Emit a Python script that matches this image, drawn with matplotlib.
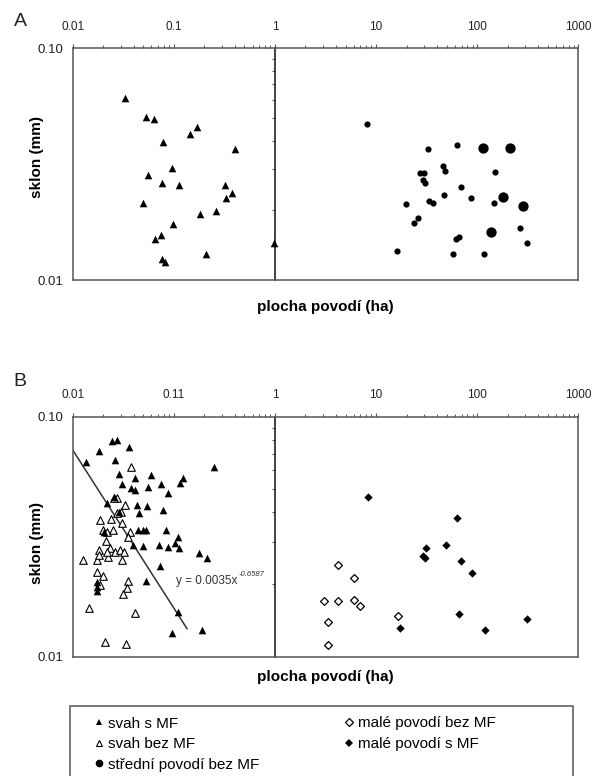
import numpy as np
import matplotlib
matplotlib.use('Agg')
import matplotlib.pyplot as plt
from matplotlib.lines import Line2D
from matplotlib.patches import Rectangle

plt.rcParams['font.family'] = ['Liberation Sans', 'DejaVu Sans']

# --- panel A: svahy s MF (trojúhelníky) a střední povodí (kolečka)
a_svah_x = [0.0328, 0.053, 0.0635, 0.170, 0.144, 0.0778, 0.406, 0.0963, 0.055, 0.0767,
            0.113, 0.321, 0.379, 0.331, 0.0498, 0.259, 0.182, 0.0985, 0.075, 0.0655,
            0.99, 0.207, 0.0767, 0.0826]
a_svah_y = [0.0612, 0.0507, 0.0494, 0.0459, 0.0427, 0.0393, 0.0366, 0.0303, 0.0284, 0.0263,
            0.0257, 0.0257, 0.0237, 0.0227, 0.0216, 0.0199, 0.0192, 0.0174, 0.0157, 0.0150,
            0.0144, 0.0130, 0.0123, 0.0120]

a_stredni_x = [8.07, 32.6, 63.6, 27.2, 30.0, 28.9, 30.2, 45.9, 48.0, 151, 68.6, 19.8, 33.1,
               36.8, 46.6, 87.5, 148, 25.8, 23.9, 265, 308, 61.2, 65.6, 16.2, 57.6, 118]
a_stredni_y = [0.0469, 0.0366, 0.0383, 0.0291, 0.0291, 0.0270, 0.0261, 0.0309, 0.0296, 0.0293,
               0.0253, 0.0212, 0.0219, 0.0214, 0.0232, 0.0227, 0.0214, 0.0185, 0.0176, 0.0167,
               0.0145, 0.0150, 0.0154, 0.0134, 0.0129, 0.0130]
# větší kolečka
a_stredni_velke_x = [115, 211, 181, 282, 136]
a_stredni_velke_y = [0.0370, 0.0370, 0.0229, 0.0209, 0.0161]

# --- panel B
b_svah_mf_x = [0.0135, 0.0182, 0.0243, 0.0272, 0.0362, 0.0262, 0.250, 0.0286, 0.0412, 0.0593,
               0.0309, 0.0415, 0.0376, 0.0557, 0.0739, 0.0867, 0.115, 0.122, 0.0256, 0.0220,
               0.0428, 0.0538, 0.0784, 0.0288, 0.0454, 0.0205, 0.0438, 0.0498, 0.0529, 0.0828,
               0.110, 0.0391, 0.0498, 0.0706, 0.0867, 0.102, 0.112, 0.177, 0.215, 0.0728,
               0.0529, 0.0173, 0.0175, 0.0174, 0.109, 0.0949, 0.188]
b_svah_mf_y = [0.0650, 0.0722, 0.0794, 0.0800, 0.0750, 0.0660, 0.0615, 0.0577, 0.0556, 0.0572,
               0.0525, 0.0496, 0.0505, 0.0508, 0.0525, 0.0482, 0.0531, 0.0553, 0.0464, 0.0435,
               0.0428, 0.0425, 0.0408, 0.0402, 0.0398, 0.0332, 0.0338, 0.0338, 0.0338, 0.0338,
               0.0316, 0.0292, 0.0289, 0.0292, 0.0287, 0.0297, 0.0283, 0.0270, 0.0257, 0.0239,
               0.0207, 0.0205, 0.0196, 0.0187, 0.0153, 0.0125, 0.0129]

b_svah_bez_x = [0.0374, 0.0276, 0.0254, 0.0328, 0.0298, 0.0276, 0.0186, 0.0239, 0.0305, 0.0198,
                0.0220, 0.0252, 0.0368, 0.0349, 0.0213, 0.0183, 0.0233, 0.0262, 0.0293, 0.0323,
                0.0225, 0.0305, 0.0175, 0.0126, 0.0181, 0.0218, 0.0173, 0.0200, 0.0349, 0.0341,
                0.0316, 0.0186, 0.0146, 0.0412, 0.0208, 0.0336]
b_svah_bez_y = [0.0619, 0.0457, 0.0457, 0.0428, 0.0402, 0.0398, 0.0371, 0.0374, 0.0362, 0.0338,
                0.0332, 0.0338, 0.0332, 0.0316, 0.0302, 0.0279, 0.0283, 0.0274, 0.0279, 0.0274,
                0.0261, 0.0253, 0.0253, 0.0253, 0.0266, 0.0274, 0.0226, 0.0217, 0.0207, 0.0193,
                0.0182, 0.0199, 0.0159, 0.0152, 0.01155, 0.0113]

b_male_bez_x = [4.20, 6.0, 3.08, 4.17, 6.0, 6.93, 3.35, 16.5, 3.35]
b_male_bez_y = [0.0241, 0.0212, 0.0171, 0.0171, 0.0173, 0.0163, 0.0140, 0.0148, 0.0112]

b_male_mf_x = [8.32, 63.6, 31.2, 49.5, 29.3, 30.3, 69.7, 89.5, 65.6, 17.1, 120, 311]
b_male_mf_y = [0.0461, 0.0377, 0.0285, 0.0292, 0.0264, 0.0259, 0.0251, 0.0224, 0.0150, 0.0132,
               0.0129, 0.0143]

# regrese y = 0.0035 x^-0.6587
reg_a, reg_b = 0.0035, -0.6587
reg_x_range = (0.01, 0.135)

xticks = [0.01, 0.1, 1, 10, 100, 1000]
xlabels_a = ['0.01', '0.1', '1', '10', '100', '1000']
xlabels_b = ['0.01', '0.11', '1', '10', '100', '1000']

W, H = 598, 776
fig = plt.figure(figsize=(W / 100, H / 100), dpi=100)
FRAME = '#555555'


def frac(x0, y_top, x1, y_bot):
    return [x0 / W, 1 - y_bot / H, (x1 - x0) / W, (y_bot - y_top) / H]


def style_axes(ax, xlabels):
    ax.set_xscale('log')
    ax.set_yscale('log')
    ax.set_xlim(0.01, 1000)
    ax.set_ylim(0.01, 0.1)
    for s in ax.spines.values():
        s.set_color(FRAME)
        s.set_linewidth(1.1)
    ax.xaxis.tick_top()
    ax.set_xticks(xticks, xlabels)
    ax.tick_params(axis='x', which='major', direction='out', length=3, width=0.8,
                   color=FRAME, labelsize=8.5, pad=8, labelcolor='#222222')
    ax.tick_params(axis='x', which='minor', direction='out', length=2, width=0.7,
                   color=FRAME, labelbottom=False, labeltop=False)
    ax.set_yticks([0.01, 0.1], ['0.01', '0.10'])
    ax.yaxis.set_minor_locator(matplotlib.ticker.NullLocator())
    ax.tick_params(axis='y', which='major', length=0, labelsize=9.5, pad=7,
                   labelcolor='#222222')
    # svislá osa v x = 1 s drobnými značkami
    sec = ax.secondary_yaxis(0.4)
    sec.tick_params(axis='y', which='both', direction='out', labelleft=False,
                    labelright=False, color=FRAME)
    sec.tick_params(axis='y', which='minor', length=2.5, width=0.8)
    sec.tick_params(axis='y', which='major', length=0)
    for s in sec.spines.values():
        s.set_color('#333333')
        s.set_linewidth(1.3)


tri_kw = dict(marker='^', s=30, color='black', linewidths=0, zorder=3)
hollow_kw = dict(marker='^', s=30, facecolor='white', edgecolor='black', linewidths=0.8, zorder=3)

# ---------------- A
axA = fig.add_axes(frac(72.7, 48.3, 578.3, 280))
style_axes(axA, xlabels_a)
axA.scatter(a_svah_x, a_svah_y, **tri_kw)
axA.scatter(a_stredni_x, a_stredni_y, marker='o', s=20, color='black', linewidths=0, zorder=3)
axA.scatter(a_stredni_velke_x, a_stredni_velke_y, marker='o', s=55, color='black',
            linewidths=0, zorder=3)

# ---------------- B
axB = fig.add_axes(frac(72.7, 416.7, 578.3, 656.7))
style_axes(axB, xlabels_b)
axB.scatter(b_svah_bez_x, b_svah_bez_y, **hollow_kw)
axB.scatter(b_svah_mf_x, b_svah_mf_y, **tri_kw)
axB.scatter(b_male_bez_x, b_male_bez_y, marker='D', s=16, facecolor='white',
            edgecolor='black', linewidths=0.9, zorder=3)
axB.scatter(b_male_mf_x, b_male_mf_y, marker='D', s=18, color='black', linewidths=0, zorder=3)
rx = np.logspace(np.log10(reg_x_range[0]), np.log10(reg_x_range[1]), 50)
axB.plot(rx, reg_a * rx ** reg_b, color='#333333', lw=1.1, zorder=2)
axB.text(0.105, 0.0206, 'y = 0.0035x', fontsize=8.5, color='#333333', va='center', ha='left',
         zorder=4)
axB.text(0.44, 0.0219, '-0.6587', fontsize=5.5, style='italic', color='#333333',
         va='center', ha='left', zorder=4)

# popisky
for ytxt, ylab in [(307, 157), (677, 543)]:
    fig.text(325.5 / W, 1 - ytxt / H, 'plocha povodí (ha)', fontsize=11, fontweight='bold',
             ha='center', va='center')
    fig.text(37 / W, 1 - ylab / H, 'sklon (mm)', fontsize=11, fontweight='bold',
             rotation=90, ha='center', va='center')
fig.text(20 / W, 1 - 21.7 / H, 'A', fontsize=14, ha='center', va='center', color='#222222')
fig.text(20 / W, 1 - 381 / H, 'B', fontsize=14, ha='center', va='center', color='#222222')

# legenda
fig.add_artist(Rectangle((70 / W, -0.05), 503 / W, 0.05 + 1 - 706 / H,
                         transform=fig.transFigure, fill=False, edgecolor=FRAME, lw=1.1))
handles = [
    Line2D([], [], ls='', marker='^', ms=5, color='black', mew=0),
    Line2D([], [], ls='', marker='^', ms=5, mfc='white', mec='black', mew=0.8),
    Line2D([], [], ls='', marker='o', ms=5.5, color='black', mew=0),
    Line2D([], [], ls='', marker='D', ms=4, mfc='white', mec='black', mew=0.9),
    Line2D([], [], ls='', marker='D', ms=4, color='black', mew=0),
]
labels = ['svah s MF', 'svah bez MF', 'střední povodí bez MF',
          'malé povodí bez MF', 'malé povodí s MF']
fig.legend(handles, labels, ncol=2, loc='upper left',
           bbox_to_anchor=(94.7 / W, 1 - 716.5 / H), frameon=False, fontsize=11,
           handlelength=0.6, handletextpad=0.3, columnspacing=5.56, labelspacing=0.43,
           borderpad=0, borderaxespad=0)

fig.savefig('out.png', dpi=100)
